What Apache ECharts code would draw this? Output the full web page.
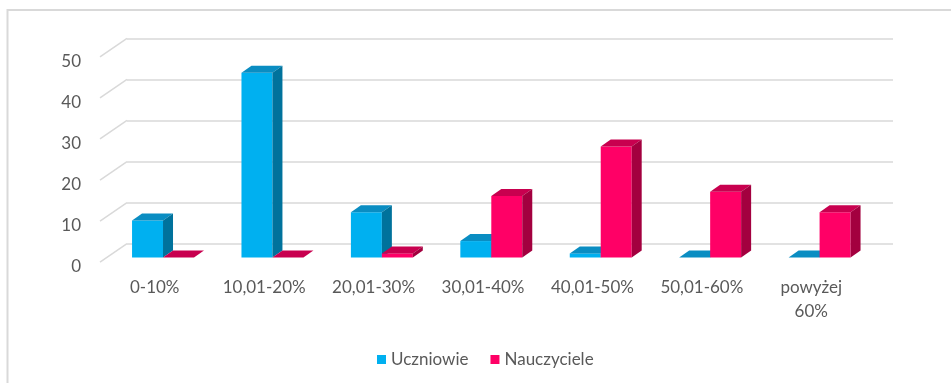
<!DOCTYPE html>
<html>
<head>
<meta charset="utf-8">
<script src="https://cdn.jsdelivr.net/npm/echarts@6/dist/echarts.min.js"></script>
<style>
  html, body { margin: 0; padding: 0; background: #fff; }
  #chart { width: 951px; height: 383px; }
</style>
</head>
<body>
<div id="chart"></div>
<script>
const categories = ['0-10%', '10,01-20%', '20,01-30%', '30,01-40%', '40,01-50%', '50,01-60%', 'powyżej\n60%']
const uczniowie = [9, 45, 11, 4, 1, 0, 0]
const nauczyciele = [0, 0, 1, 15, 27, 16, 11]
const yTicks = [0, 10, 20, 30, 40, 50]

const FONT = 'Lato'
const TXT = '#595959'
const LINE = '#d9d9d9'

// przesunięcia "3D" w pikselach
const WALL = [-27, 18.5]   // tylna ściana -> przednia krawędź podłogi
const FACE = [-18.7, 13.8] // tylna ściana -> przód słupka
const DEPTH = [10, -7]     // głębokość słupka

function bar3d(side, colors) {
  return function (params, api) {
    const cat = api.value(0)
    const base = api.coord([cat, 0])
    const top = api.coord([cat, api.value(1)])
    const w = api.size([1, 0])[0] * 0.283
    const x0 = base[0] + FACE[0] + (side < 0 ? -w : 0)
    const x1 = x0 + w
    const yb = base[1] + FACE[1]
    const yt = top[1] + FACE[1]
    const dx = DEPTH[0], dy = DEPTH[1]
    return {
      type: 'group',
      children: [
        { type: 'rect', shape: { x: x0, y: yt, width: w, height: yb - yt }, style: { fill: colors[0] } },
        { type: 'polygon', shape: { points: [[x0, yt], [x1, yt], [x1 + dx, yt + dy], [x0 + dx, yt + dy]] }, style: { fill: colors[1] } },
        { type: 'polygon', shape: { points: [[x1, yt], [x1, yb], [x1 + dx, yb + dy], [x1 + dx, yt + dy]] }, style: { fill: colors[2] } },
      ],
    }
  }
}

const chart = echarts.init(document.getElementById('chart'))
chart.setOption({
  animation: false,
  textStyle: { fontFamily: FONT },
  graphic: [
    {
      type: 'rect',
      shape: { x: 7.5, y: 10, width: 1000, height: 400 },
      style: { fill: 'none', stroke: LINE, lineWidth: 2 },
      silent: true,
    },
  ],
  legend: {
    data: ['Uczniowie', 'Nauczyciele'],
    icon: 'rect',
    itemWidth: 9,
    itemHeight: 9,
    itemGap: 22,
    left: 372,
    top: 346,
    textStyle: { fontFamily: FONT, fontSize: 17, color: TXT },
  },
  grid: [
    // tylna ściana
    { left: 127, right: 58, top: 38.3, bottom: 139.3 },
    // przednia płaszczyzna (opisy osi)
    { left: 100, right: 85, top: 61.5, bottom: 116 },
  ],
  xAxis: [
    { gridIndex: 0, type: 'category', data: categories, show: false },
    {
      gridIndex: 1,
      type: 'category',
      data: categories,
      axisLine: { show: false },
      axisTick: { show: false },
      axisLabel: { margin: 9, fontSize: 17, lineHeight: 24, color: TXT, fontFamily: FONT, interval: 0 },
    },
  ],
  yAxis: [
    {
      gridIndex: 0,
      type: 'value',
      min: 0,
      max: 50,
      interval: 10,
      axisLabel: { show: false },
      axisLine: { show: false },
      axisTick: { show: false },
      splitLine: { lineStyle: { color: LINE, width: 1.5 } },
    },
    {
      gridIndex: 1,
      type: 'value',
      min: 0,
      max: 50,
      interval: 10,
      axisLine: { show: false },
      axisTick: { show: false },
      splitLine: { show: false },
      axisLabel: { margin: 19, fontSize: 17, color: TXT, fontFamily: FONT },
    },
  ],
  series: [
    {
      // ukośne linie siatki
      type: 'custom',
      xAxisIndex: 0,
      yAxisIndex: 0,
      silent: true,
      data: yTicks.map(v => [0, v]),
      renderItem(params, api) {
        const p = api.coord([0, api.value(1)])
        const x = params.coordSys.x
        return {
          type: 'line',
          shape: { x1: x, y1: p[1], x2: x + WALL[0], y2: p[1] + WALL[1] },
          style: { stroke: LINE, lineWidth: 1.5 },
        }
      },
    },
    {
      name: 'Uczniowie',
      type: 'custom',
      xAxisIndex: 0,
      yAxisIndex: 0,
      itemStyle: { color: '#00B0F0' },
      data: uczniowie.map((v, i) => [i, v]),
      renderItem: bar3d(-1, ['#00B0F0', '#0A8DC2', '#00729C']),
    },
    {
      name: 'Nauczyciele',
      type: 'custom',
      xAxisIndex: 0,
      yAxisIndex: 0,
      itemStyle: { color: '#FF0066' },
      data: nauczyciele.map((v, i) => [i, v]),
      renderItem: bar3d(1, ['#FF0066', '#C8004F', '#A3003F']),
    },
  ],
})
</script>
</body>
</html>
